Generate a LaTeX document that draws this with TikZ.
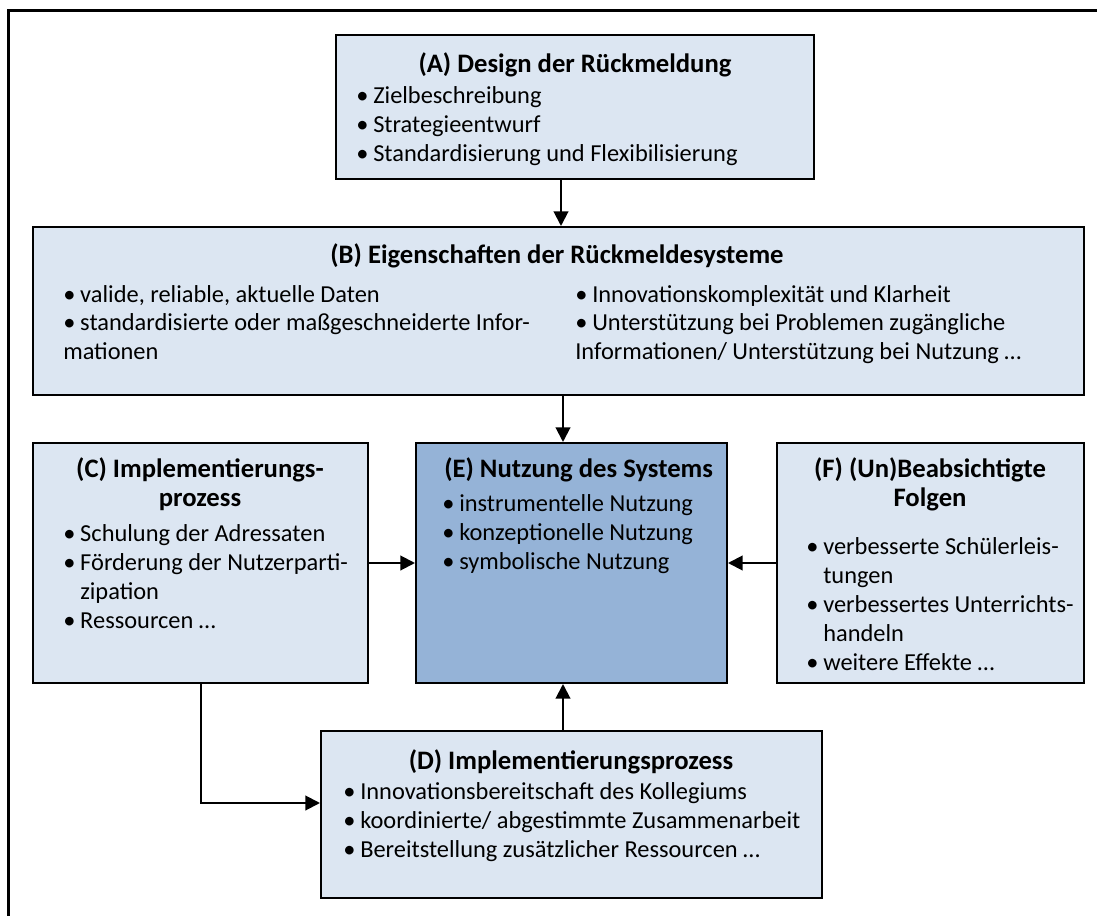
\documentclass[tikz,border=0pt]{standalone}
\usepackage{fontspec}
\setmainfont{Carlito}
\usetikzlibrary{arrows.meta,fit}
\definecolor{boxfill}{HTML}{DCE6F2}
\definecolor{efill}{HTML}{95B3D7}
\newcommand{\bul}{\makebox[12.75pt][l]{•}}
\newcommand{\ind}{\hspace*{12.75pt}}
\begin{document}
\begin{tikzpicture}[x=0.75pt,y=-0.75pt,
  box/.style={draw=black,line width=1.5pt,inner sep=0pt,fill=boxfill},
  ebox/.style={box,fill=efill},
  txt/.style={inner sep=0pt,align=left,font=\fontsize{18.3}{21.75}\selectfont},
  ttl/.style={inner sep=0pt,align=center,font=\fontsize{20}{21.75}\selectfont\bfseries},
  arr/.style={line width=1.5pt,-{Triangle[length=11pt,width=11pt]}}]
\useasboundingbox (0,0) rectangle (1097,916);
\draw[line width=2.25pt] (8,916) -- (8,11) -- (1097,11);
% boxes
\node[box,fit={(336,35) (814,179)}] (A) {};
\node[box,fit={(33,227) (1084,395)}] (B) {};
\node[box,fit={(33,443) (368,683)}] (C) {};
\node[ebox,fit={(416,443) (727,683)}] (E) {};
\node[box,fit={(777,443) (1084,683)}] (F) {};
\node[box,fit={(321,731) (822,898)}] (D) {};
% texts A (base anchor = last line baseline)
\node[ttl,anchor=base] (At) at (575,73) {(A) Design der Rückmeldung};
\node[txt,anchor=base west] (Al) at (356,162) {\bul Zielbeschreibung\\ \bul Strategieentwurf\\ \bul Standardisierung und Flexibilisierung};
% B
\node[ttl,anchor=base] (Bt) at (557,264) {(B) Eigenschaften der Rückmeldesysteme};
\node[txt,anchor=base west] (Bl) at (63,360) {\bul valide, reliable, aktuelle Daten\\ \bul standardisierte oder maßgeschneiderte Infor-\\ mationen};
\node[txt,anchor=base west] (Br) at (575,360) {\bul Innovationskomplexität und Klarheit\\ \bul Unterstützung bei Problemen zugängliche\\ Informationen/ Unterstützung bei Nutzung …};
% C
\node[ttl,anchor=base] (Ct) at (200,507) {(C) Implementierungs-\\prozess};
\node[txt,anchor=base west] (Cl) at (63,628) {\bul Schulung der Adressaten\\ \bul Förderung der Nutzerparti-\\ \ind zipation\\ \bul Ressourcen …};
% E
\node[ttl,anchor=base west] (Et) at (444,478) {(E) Nutzung des Systems};
\node[txt,anchor=base west] (El) at (442,569) {\bul instrumentelle Nutzung\\ \bul konzeptionelle Nutzung\\ \bul symbolische Nutzung};
% F
\node[ttl,anchor=base] (Ft) at (930,507) {(F) (Un)Beabsichtigte\\Folgen};
\node[txt,anchor=base west] (Fl) at (806,670) {\bul verbesserte Schülerleis-\\ \ind tungen\\ \bul verbessertes Unterrichts-\\ \ind handeln\\ \bul weitere Effekte …};
% D
\node[ttl,anchor=base] (Dt) at (571,769) {(D) Implementierungsprozess};
\node[txt,anchor=base west] (Dl) at (343,857) {\bul Innovationsbereitschaft des Kollegiums\\ \bul koordinierte/ abgestimmte Zusammenarbeit\\ \bul Bereitstellung zusätzlicher Ressourcen …};
% connectors
\coordinate (xab) at (561,0);
\coordinate (xe) at (563,0);
\coordinate (ye) at (0,563);
\coordinate (xc) at (201,0);
\coordinate (cd) at (201,803);
\draw[arr] (A.south -| xab) -- (B.north -| xab);
\draw[arr] (B.south -| xe) -- (E.north -| xe);
\draw[arr] (C.east |- ye) -- (E.west |- ye);
\draw[arr] (F.west |- ye) -- (E.east |- ye);
\draw[arr] (D.north -| xe) -- (E.south -| xe);
\draw[arr] (C.south -| xc) -- (cd) -- (D.west |- cd);
\end{tikzpicture}
\end{document}
